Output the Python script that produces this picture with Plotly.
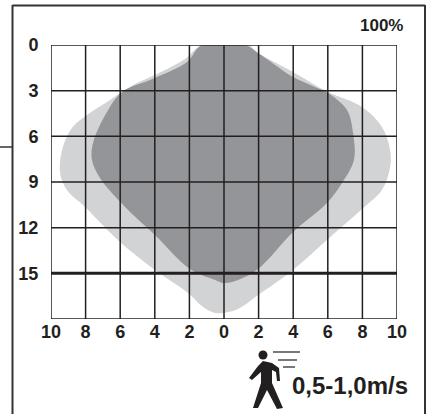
import plotly.graph_objects as go

outer_x = [-1.27,-2.25,-3.87,-5.26,-6.76,-7.92,-8.79,-9.31,-9.48,-9.08,-8.03,-6.01,-3.99,-2.08,-1.21,-0.52,0,0.81,1.97,3.99,5.95,7.98,9.13,9.6,9.6,9.13,7.98,6.01,3.99,1.97,1.39,-1.27]
outer_y = [0,0.92,1.9,2.63,3.75,4.6,5.45,6.7,8.34,9.53,10.64,12.94,14.78,16.29,17.21,17.6,17.6,17.35,16.43,14.78,12.81,10.78,9.53,8.02,6.9,5.39,4.07,3.09,1.77,0.53,0,0]
inner_x = [-1.27,-2.14,-3.99,-5.9,-6.8,-7.57,-7.63,-7.17,-5.72,-3.99,-1.97,-0.52,0,0.81,1.97,3.99,5.95,6.82,7.51,7.46,7.11,6.01,5.26,3.99,2.95,1.97,1.21,-1.27]
inner_y = [0,1.12,2.17,3.1,4.47,6.44,7.56,8.74,10.64,12.48,14.72,15.44,15.64,15.44,14.72,12.29,10.38,9.07,7.56,5.78,4.27,3.15,2.76,2.1,1.31,0.53,0,0]
x_ticks = [-10,-8,-6,-4,-2,0,2,4,6,8,10]
x_labels = ['10','8','6','4','2','0','2','4','6','8','10']
y_ticks = [0,3,6,9,12,15,18]
y_labels = ['0','3','6','9','12','15','']
FONT = 'Liberation Sans'
INK = '#231f20'
W, H = 430, 414
L, R, T, B = 51, 397, 45, 319

def px(x): return (x-L)/(R-L)
def py(y): return (B-y)/(B-T)

fig = go.Figure()
fig.add_trace(go.Scatter(x=outer_x, y=outer_y, mode='lines', fill='toself', fillcolor='#d1d3d4', line=dict(color='#d1d3d4', width=0, shape='spline', smoothing=1), hoverinfo='skip'))
fig.add_trace(go.Scatter(x=inner_x, y=inner_y, mode='lines', fill='toself', fillcolor='#939598', line=dict(color='#939598', width=0, shape='spline', smoothing=1), hoverinfo='skip'))
for t in x_ticks:
    fig.add_trace(go.Scatter(x=[t,t], y=[0,18], mode='lines', line=dict(color=INK, width=1.5), hoverinfo='skip'))
for t in y_ticks:
    fig.add_trace(go.Scatter(x=[-10,10], y=[t,t], mode='lines', line=dict(color=INK, width=3 if t == 15 else 1.5), hoverinfo='skip'))

def line(x0,y0,x1,y1,w=1.5,c=INK):
    return dict(type='line', xref='paper', yref='paper', x0=px(x0), y0=py(y0), x1=px(x1), y1=py(y1), line=dict(color=c, width=w))

shapes = [
    line(12.5,5.5,425,5.5,1.8,'#333333'), line(12.5,5,12.5,420,2,'#333333'), line(425,5,425,420,2,'#333333'),
    line(0,147,12.5,147,1.5,'#333333'),
    line(273,352,300,352,1.2), line(278,360,297,360,1.2), line(283,367,295,367,1.2),
    dict(type='circle', xref='paper', yref='paper', x0=px(258.5),x1=px(267.5),y0=py(350.5),y1=py(359.5), fillcolor=INK, line=dict(width=0)),
]
body = [(263,361),(272,363),(279,368),(280,381),(277,381),(276,372),(272,370),(272,383),(283,408),(277,409),(267,390),(258,408),(253,408),(261,383),(261,372),(252,380),(249,378),(258,366)]
path = 'M ' + ' L '.join(f'{px(a):.4f} {py(b):.4f}' for a,b in body) + ' Z'
shapes.append(dict(type='path', xref='paper', yref='paper', path=path, fillcolor=INK, line=dict(width=0)))

def note(text, x, y, size, anchor='right'):
    return dict(text=text, xref='paper', yref='paper', x=px(x), y=py(y), xanchor=anchor, yanchor='middle', showarrow=False,
                font=dict(family=FONT, size=size, color=INK), )

fig.update_layout(
    width=W, height=H, margin=dict(l=L, r=W-R, t=T, b=H-B, autoexpand=False), showlegend=False,
    paper_bgcolor='white', plot_bgcolor='white', shapes=shapes,
    annotations=[note('<b>100%</b>', 405, 25, 17), note('<b>0,5-1,0m/s</b>', 410, 385, 24)],
    xaxis=dict(range=[-10,10], tickvals=x_ticks, ticktext=[f'<b>{s}</b>' for s in x_labels], showgrid=False, zeroline=False,
               ticks='', tickfont=dict(family=FONT, size=18, color=INK)),
    yaxis=dict(range=[18,0], tickvals=y_ticks, ticktext=[f'<b>{s}</b>' for s in y_labels], showgrid=False, zeroline=False,
               ticks='outside', ticklen=8, tickcolor='rgba(0,0,0,0)', tickfont=dict(family=FONT, size=18, color=INK)),
)
fig.write_html('out.html', config=dict(displayModeBar=False), post_script="document.body.style.margin='0';")
